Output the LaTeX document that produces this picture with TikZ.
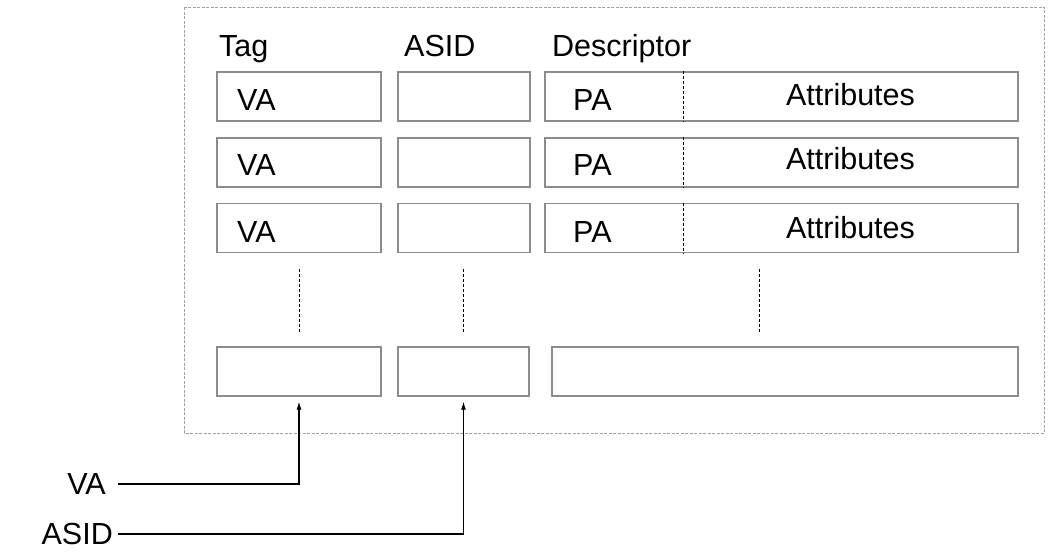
\documentclass[tikz,border=0pt]{standalone}
\usepackage{fontspec}
\setmainfont{Liberation Sans}
\usetikzlibrary{positioning,arrows.meta}

\tikzset{
  cell/.style={draw=gray!90, line width=1.3pt, minimum height=49pt, inner sep=0pt},
  txt/.style={inner sep=0pt, font=\fontsize{30.5}{36}\selectfont},
  sep/.style={dash pattern=on 3pt off 2pt, line width=0.9pt},
  frame/.style={draw=gray!75, dash pattern=on 3pt off 1.5pt, line width=1pt},
  arr/.style={-{Latex[length=8pt,width=5pt]}, line width=1.1pt, shorten >=5pt},
}

\begin{document}
\begin{tikzpicture}[x=1pt,y=-1pt]
        \useasboundingbox (0,0) rectangle (1057,554);
        \draw[frame] (184,7) rectangle (1044,433);
        \coordinate (sepx) at (683,0);

        % headers
        \node[txt, anchor=base west] (taghd) at (219,56) {Tag};
        \node[txt, anchor=base west] (asidhd) at (404,56) {ASID};
        \node[txt, anchor=base west] (deschd) at (552,56) {Descriptor};

        % table rows
        \foreach \r/\y/\d/\e in {1/96.5/3.5/-1.5, 2/162.5/3/-4, 3/228/4.5/0} {
            \node[cell, minimum width=164pt] (tag\r) at (299,\y) {};
            \node[cell, minimum width=132pt] (asid\r) at (464,\y) {};
            \node[cell, minimum width=473pt] (desc\r) at (781.5,\y) {};
            \draw[sep] (desc\r.north -| sepx) -- (desc\r.south -| sepx);
            \node[txt, anchor=west] (va\r) at (237,\y+\d) {VA};
            \node[txt, anchor=west] (pa\r) at (573,\y+\d) {PA};
            \node[txt] (attr\r) at (850.5,\y+\e) {Attributes};
        }

        % dots
        \draw[sep] (299,269) -- (299,334);
        \draw[sep] (463,269) -- (463,334);
        \draw[sep] (759,269) -- (759,334);

        % last row
        \node[cell, minimum width=164pt] (tagn) at (299,371.5) {};
        \node[cell, minimum width=131pt] (asidn) at (463.5,371.5) {};
        \node[cell, minimum width=466pt] (descn) at (785,371.5) {};

        % inputs
        \node[txt, anchor=east, inner xsep=12pt] (vain) at (118,484) {VA};
        \node[txt, anchor=east, inner xsep=5pt] (asidin) at (118,534) {ASID};
        \draw[arr] (vain.east) -| (tagn.south);
        \draw[arr] (asidin.east) -| (asidn.south);
    \end{tikzpicture}
\end{document}
